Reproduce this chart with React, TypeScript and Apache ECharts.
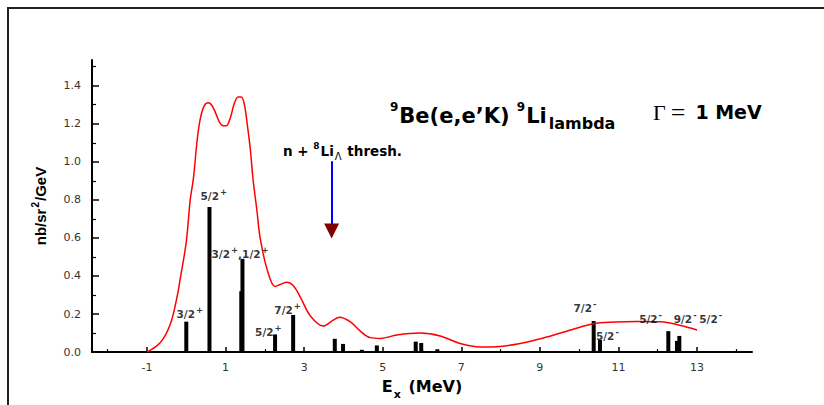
import React, { useEffect, useRef } from "react";
import * as echarts from "echarts";

// Axis ticks
const xTickMajor = [-1, 1, 3, 5, 7, 9, 11, 13];
const xTickMinor = [-2, 0, 2, 4, 6, 8, 10, 12, 14];
const yTickMajor = [0, 0.2, 0.4, 0.6, 0.8, 1.0, 1.2, 1.4];
const yTickMinor = [0.1, 0.3, 0.5, 0.7, 0.9, 1.1, 1.3, 1.5];

// Discrete states (sticks)
const barEnergies = [0.0, 0.59, 1.40, 1.43, 2.26, 2.72, 3.78, 3.99, 4.47, 4.85, 5.84, 5.98, 6.39, 10.37, 10.53, 12.27, 12.49, 12.55];
const barStrengths = [0.16, 0.763, 0.32, 0.49, 0.093, 0.195, 0.07, 0.043, 0.012, 0.035, 0.055, 0.048, 0.015, 0.163, 0.064, 0.11, 0.059, 0.085];

// Folded spectrum (Gamma = 1 MeV)
const curveE = [-1.0, -0.66, -0.41, -0.24, -0.15, 0.0, 0.10, 0.18, 0.28, 0.36, 0.46, 0.56, 0.64, 0.74, 0.84, 0.94, 1.02, 1.12, 1.22, 1.32, 1.40, 1.48, 1.55, 1.63, 1.70, 1.80, 1.88, 2.05, 2.26, 2.39, 2.56, 2.72, 2.90, 3.16, 3.49, 3.72, 3.90, 4.17, 4.43, 4.68, 4.95, 5.36, 5.95, 6.46, 6.97, 7.48, 7.99, 8.50, 9.01, 9.52, 10.36, 10.92, 11.47, 12.06, 12.75, 13.0];
const curveV = [0, 0.05, 0.145, 0.285, 0.39, 0.58, 0.80, 0.91, 1.12, 1.23, 1.295, 1.31, 1.30, 1.26, 1.21, 1.19, 1.19, 1.23, 1.305, 1.34, 1.34, 1.30, 1.20, 1.066, 0.907, 0.74, 0.60, 0.44, 0.345, 0.355, 0.367, 0.35, 0.29, 0.19, 0.137, 0.165, 0.183, 0.16, 0.11, 0.076, 0.072, 0.09, 0.10, 0.085, 0.045, 0.027, 0.03, 0.045, 0.07, 0.10, 0.149, 0.158, 0.161, 0.159, 0.131, 0.116];

// State labels: [E, y] of label centre, text
const labelE = [0.09, 0.70, 1.37, 2.09, 2.58, 10.15, 10.72, 11.82, 12.70, 13.35];
const labelV = [0.206, 0.826, 0.524, 0.112, 0.229, 0.240, 0.094, 0.182, 0.182, 0.182];
const labelText = ["{a|3/2}{s|+}", "{a|5/2}{s|+}", "{a|3/2}{s|+}{a|,1/2}{s|+}", "{a|5/2}{s|+}", "{a|7/2}{s|+}", "{a|7/2}{s|-}", "{a|5/2}{s|-}", "{a|5/2}{s|-}", "{a|9/2}{s|-}", "{a|5/2}{s|-}"];

// Threshold arrow (n + 8Li_Lambda)
const threshE = 3.7;
const arrowTop = 1.003;
const arrowBottom = 0.665;
const arrowHead = 0.636;

const SANS = "'DejaVu Sans', 'Liberation Sans', Arial, sans-serif";
const NARROW = "'Liberation Sans Narrow', 'Arial Narrow', 'Liberation Sans', Arial, sans-serif";
const SERIF = "'Liberation Serif', 'Times New Roman', serif";

export default function App() {
  const ref = useRef<HTMLDivElement>(null);
  useEffect(() => {
    if (!ref.current) return;
    const chart = echarts.init(ref.current, null, { renderer: "svg" });
    const xMin = -2.4, xMax = 14.4, yMin = 0, yMax = 1.535;
    const option: any = {
      animation: false,
      backgroundColor: "#fff",
      grid: { left: 92, right: 72, top: 60, bottom: 50.5, containLabel: false },
      xAxis: [
        {
          type: "value", min: xMin, max: xMax, position: "bottom",
          axisLine: { onZero: false, lineStyle: { color: "#000", width: 2 } },
          axisTick: { customValues: xTickMajor, inside: true, length: 5, lineStyle: { color: "#000", width: 1.5 } },
          axisLabel: { customValues: xTickMajor, margin: 10, color: "#333", fontSize: 11, fontFamily: "'DejaVu Sans', sans-serif" },
          splitLine: { show: false },
          name: "{e|E}{x|x}{e| (MeV)}",
          nameLocation: "middle",
          nameGap: 25,
          nameTextStyle: {
            rich: {
              e: { fontSize: 16, fontWeight: "bold", fontFamily: SANS, color: "#000", lineHeight: 22, verticalAlign: "top" },
              x: { fontSize: 11, fontWeight: "bold", fontFamily: SANS, color: "#000", lineHeight: 22, verticalAlign: "bottom", padding: [0, 2, 0, 1] },
            },
          },
        },
        {
          type: "value", min: xMin, max: xMax, position: "bottom", gridIndex: 0,
          axisLine: { show: false, onZero: false },
          axisTick: { customValues: xTickMinor, inside: true, length: 3, lineStyle: { color: "#000", width: 1.2 } },
          axisLabel: { show: false },
          splitLine: { show: false },
        },
      ],
      yAxis: [
        {
          type: "value", min: yMin, max: yMax, position: "left",
          axisLine: { onZero: false, lineStyle: { color: "#000", width: 2 } },
          axisTick: { customValues: yTickMajor, inside: true, length: 7, lineStyle: { color: "#000", width: 1.5 } },
          axisLabel: { customValues: yTickMajor, margin: 11, color: "#333", fontSize: 11, fontFamily: "'DejaVu Sans', sans-serif", formatter: (v: number) => v.toFixed(1) },
          splitLine: { show: false },
          name: "{n|nb/sr}{p|2}{n|/GeV}",
          nameLocation: "middle",
          nameRotate: 90,
          nameGap: 44,
          nameTextStyle: {
            rich: {
              n: { fontSize: 15, fontWeight: "bold", fontFamily: NARROW, color: "#000", lineHeight: 18, verticalAlign: "bottom" },
              p: { fontSize: 10, fontWeight: "bold", fontFamily: NARROW, color: "#000", lineHeight: 10, verticalAlign: "top", padding: [0, 1, 0, 1] },
            },
          },
        },
        {
          type: "value", min: yMin, max: yMax, position: "left", gridIndex: 0,
          axisLine: { show: false, onZero: false },
          axisTick: { customValues: yTickMinor, inside: true, length: 4, lineStyle: { color: "#000", width: 1.2 } },
          axisLabel: { show: false },
          splitLine: { show: false },
        },
      ],
      series: [
        {
          type: "bar",
          xAxisIndex: 0, yAxisIndex: 0,
          barWidth: 4,
          data: barEnergies.map((e, i) => [e, barStrengths[i]]),
          itemStyle: { color: "#000" },
          z: 2,
          markLine: {
            silent: true,
            symbol: ["none", "none"],
            label: { show: false },
            lineStyle: { color: "#0000ff", width: 2, type: "solid" },
            data: [[{ coord: [threshE, arrowTop] }, { coord: [threshE, arrowBottom] }]],
          },
          markPoint: {
            silent: true,
            symbol: "triangle",
            symbolSize: [15, 15],
            symbolRotate: 180,
            itemStyle: { color: "#800000" },
            label: { show: false },
            data: [{ coord: [threshE, arrowHead] }],
          },
        },
        {
          type: "line",
          xAxisIndex: 0, yAxisIndex: 0,
          data: curveE.map((e, i) => [e, curveV[i]]),
          smooth: 0.35,
          showSymbol: false,
          symbol: "none",
          lineStyle: { color: "#ff0000", width: 1.5 },
          z: 3,
        },
        {
          type: "scatter",
          xAxisIndex: 0, yAxisIndex: 0,
          symbolSize: 0,
          z: 4,
          data: labelE.map((e, i) => ({ value: [e, labelV[i]], name: labelText[i] })),
          label: {
            show: true,
            position: "inside",
            formatter: (p: any) => p.name,
            rich: {
              a: { fontSize: 10.5, fontWeight: "bold", fontFamily: SANS, color: "#000", lineHeight: 14, verticalAlign: "bottom" },
              s: { fontSize: 8.5, fontWeight: "bold", fontFamily: SANS, color: "#000", lineHeight: 8, verticalAlign: "top", padding: [0, 0, 0, 1] },
            },
          },
        },
      ],
      graphic: [
        {
          type: "rect",
          shape: { x: 8, y: 8, width: 900, height: 500 },
          style: { fill: "none", stroke: "#222", lineWidth: 2 },
          silent: true,
        },
        {
          type: "text",
          x: 390,
          y: 116,
          style: {
            text: "{sup|9}{m|Be(e,e\u2019K) }{sup|9}{m|Li}{sub|lambda}",
            verticalAlign: "middle",
            align: "left",
            rich: {
              m: { fontSize: 21, fontWeight: "bold", fontFamily: SANS, fill: "#000", lineHeight: 30, verticalAlign: "middle" },
              sup: { fontSize: 12, fontWeight: "bold", fontFamily: SANS, fill: "#000", lineHeight: 22, verticalAlign: "top", padding: [0, 1, 0, 0] },
              sub: { fontSize: 16, fontWeight: "bold", fontFamily: SANS, fill: "#000", lineHeight: 18, verticalAlign: "bottom", padding: [0, 0, 0, 2] },
            },
          },
        },
        {
          type: "text",
          x: 653,
          y: 112,
          style: {
            text: "{g|\u0393}{q|=}{m|1 MeV}",
            verticalAlign: "middle",
            align: "left",
            rich: {
              g: { fontSize: 22, fontFamily: SERIF, fill: "#000", lineHeight: 26 },
              q: { fontSize: 26, fontFamily: SERIF, fill: "#000", lineHeight: 26, padding: [0, 10, 0, 5] },
              m: { fontSize: 19, fontWeight: "bold", fontFamily: SANS, fill: "#000", lineHeight: 26 },
            },
          },
        },
        {
          type: "text",
          x: 283,
          y: 151,
          style: {
            text: "{t|n + }{ts|8}{t|Li}{tl|\u039B}{t| thresh.}",
            verticalAlign: "middle",
            align: "left",
            rich: {
              t: { fontSize: 13.5, fontWeight: "bold", fontFamily: SANS, fill: "#000", lineHeight: 20, verticalAlign: "middle" },
              ts: { fontSize: 9, fontWeight: "bold", fontFamily: SANS, fill: "#000", lineHeight: 12, verticalAlign: "top", padding: [0, 1, 0, 0] },
              tl: { fontSize: 10, fontFamily: SANS, fill: "#000", lineHeight: 12, verticalAlign: "bottom", padding: [0, 1, 0, 1] },
            },
          },
        },
      ],
    };
    chart.setOption(option);
    return () => chart.dispose();
  }, []);
  return (
    <div
      ref={ref}
      style={{ position: "fixed", left: 0, top: 0, width: 824, height: 405, background: "#fff" }}
    />
  );
}
